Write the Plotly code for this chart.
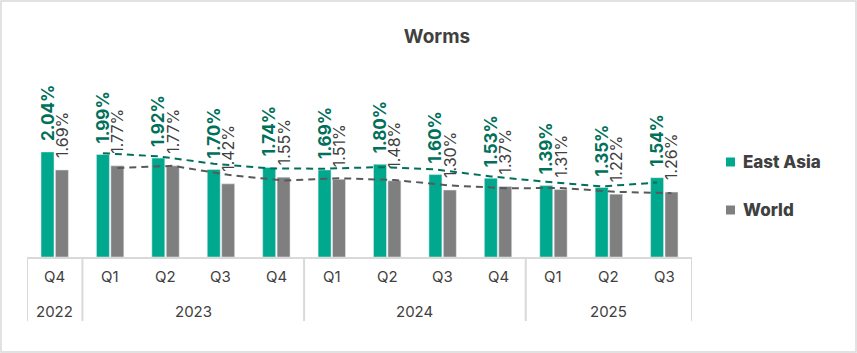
import plotly.graph_objects as go
import pandas as pd

years = ["2022", "2023", "2023", "2023", "2023", "2024", "2024", "2024", "2024", "2025", "2025", "2025"]
quarters = ["Q4", "Q1", "Q2", "Q3", "Q4", "Q1", "Q2", "Q3", "Q4", "Q1", "Q2", "Q3"]
east_asia = [2.04, 1.99, 1.92, 1.70, 1.74, 1.69, 1.80, 1.60, 1.53, 1.39, 1.35, 1.54]
world = [1.69, 1.77, 1.77, 1.42, 1.55, 1.51, 1.48, 1.30, 1.37, 1.31, 1.22, 1.26]

GREEN = "#00A88E"
GREEN_DARK = "#00705A"
GREY = "#7F7F7F"
TEXT = "#404040"
LINE = "#D9D9D9"
FONT = "Inter"

W, H = 857, 353
ML, MR, MT, MB = 27, 165, 60, 96
pw = W - ML - MR
ph = H - MT - MB

idx = list(range(len(quarters)))

# 2-period moving-average trendlines (as in the source chart)
ea_ma = pd.Series(east_asia).rolling(2).mean()
w_ma = pd.Series(world).rolling(2).mean()

fig = go.Figure()
fig.add_trace(go.Bar(
    x=idx, y=east_asia, name="East Asia", marker_color=GREEN,
    texttemplate="\u00a0\u00a0%{y:.2f}%", textposition="outside", textangle=-90,
    textfont=dict(family=FONT, size=17, color=GREEN_DARK, weight=700),
    constraintext="none", cliponaxis=False, showlegend=False,
))
fig.add_trace(go.Bar(
    x=idx, y=world, name="World", marker_color=GREY,
    texttemplate="\u00a0\u00a0%{y:.2f}%", textposition="outside", textangle=-90,
    textfont=dict(family=FONT, size=16, color=TEXT),
    constraintext="none", cliponaxis=False, showlegend=False,
))
off = 0.13
fig.add_trace(go.Scatter(
    x=[i - off for i in idx[1:]], y=list(ea_ma[1:]), mode="lines",
    line=dict(color=GREEN_DARK, width=2, dash="7px,5px"), showlegend=False, hoverinfo="skip",
))
fig.add_trace(go.Scatter(
    x=[i + off for i in idx[1:]], y=list(w_ma[1:]), mode="lines",
    line=dict(color="#595959", width=2, dash="7px,5px"), showlegend=False, hoverinfo="skip",
))

annotations = []
shapes = []
# quarter labels
for i, q in zip(idx, quarters):
    annotations.append(dict(x=i, y=0, xref="x", yref="paper", text=q, showarrow=False,
                            yanchor="middle", yshift=-19,
                            font=dict(family=FONT, size=15, color=TEXT)))
# year groups and dividers
groups = []
for i, yv in zip(idx, years):
    if groups and groups[-1][0] == yv:
        groups[-1][2] = i
    else:
        groups.append([yv, i, i])
div_y0 = 0
div_y1 = -(321 - (H - MB)) / ph
for yv, a, b in groups:
    annotations.append(dict(x=(a + b) / 2, y=0, xref="x", yref="paper", text=yv, showarrow=False,
                            yanchor="middle", yshift=-54,
                            font=dict(family=FONT, size=15, color=TEXT)))
    shapes.append(dict(type="line", xref="x", yref="paper", x0=a - 0.5, x1=a - 0.5,
                       y0=div_y0, y1=div_y1, line=dict(color=LINE, width=2)))
shapes.append(dict(type="line", xref="x", yref="paper", x0=idx[-1] + 0.5, x1=idx[-1] + 0.5,
                   y0=div_y0, y1=div_y1, line=dict(color=LINE, width=2)))

# legend (manual, to match spacing)
legend_items = [("East Asia", GREEN, 162), ("World", GREY, 210)]
for name, col, py in legend_items:
    yc = (H - MB - py) / ph
    x0 = (726 - ML) / pw
    x1 = (735 - ML) / pw
    shapes.append(dict(type="rect", xref="paper", yref="paper", x0=x0, x1=x1,
                       y0=yc - 4.5 / ph, y1=yc + 4.5 / ph, fillcolor=col, line=dict(width=0)))
    annotations.append(dict(x=(741 - ML) / pw, y=yc, xref="paper", yref="paper", text=name,
                            showarrow=False, xanchor="left", yanchor="middle",
                            font=dict(family=FONT, size=17, color=TEXT, weight=800)))

# outer border
shapes.append(dict(type="rect", xref="paper", yref="paper",
                   x0=(1 - ML) / pw, x1=(W - 1 - ML) / pw,
                   y0=-(MB - 1) / ph, y1=1 + (MT - 1) / ph,
                   line=dict(color=LINE, width=1.5), layer="below"))

fig.update_layout(
    width=W, height=H,
    margin=dict(l=ML, r=MR, t=MT, b=MB),
    paper_bgcolor="white", plot_bgcolor="white",
    barmode="group", bargap=0.48, bargroupgap=0.1,
    title=dict(text="<b>Worms</b>", x=437 / W, xanchor="center", y=1 - 36 / H, yanchor="middle",
               font=dict(family=FONT, size=19, color=TEXT)),
    font=dict(family=FONT, color=TEXT),
    xaxis=dict(range=[-0.5, 11.5], showline=True, linecolor=LINE, linewidth=2,
               showticklabels=False, ticks="", showgrid=False, zeroline=False),
    yaxis=dict(range=[0, ph / 51.5], visible=False, showgrid=False, zeroline=False),
    annotations=annotations,
    shapes=shapes,
    showlegend=False,
)

fig.write_html("out.html")
